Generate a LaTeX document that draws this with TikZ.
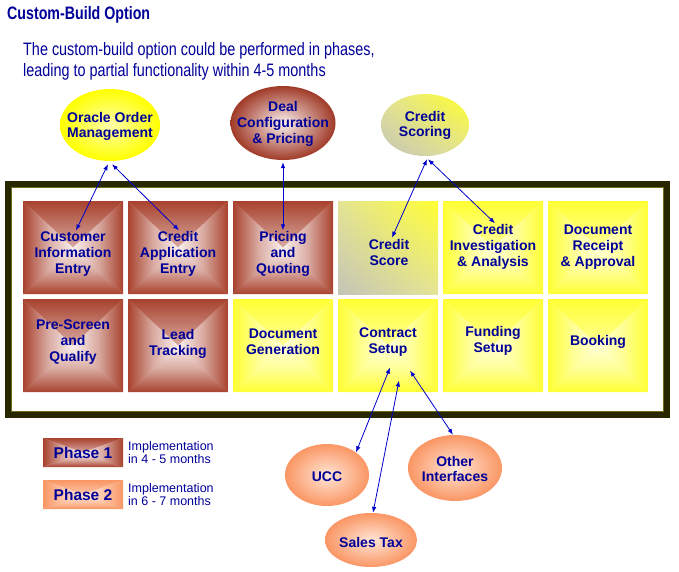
\documentclass[tikz,border=0pt]{standalone}
\usepackage{fontspec}
\setmainfont{Liberation Sans}
\usepackage{graphicx}
\usetikzlibrary{shapes.geometric,arrows.meta,shadings}
\definecolor{txt}{RGB}{0,0,153}
\definecolor{brn}{RGB}{168,66,46}
\definecolor{brnc}{RGB}{250,240,238}
\definecolor{yel}{RGB}{255,255,51}
\definecolor{yelc}{RGB}{255,255,215}
\definecolor{sal}{RGB}{250,150,100}
\definecolor{salc}{RGB}{255,230,214}
\definecolor{arrc}{RGB}{0,0,204}
\definecolor{framec}{RGB}{40,40,0}
\definecolor{frameh}{RGB}{110,110,30}
\definecolor{grylo}{RGB}{196,196,184}
\definecolor{grymid}{RGB}{228,228,150}
\begin{document}
\begin{tikzpicture}[x=1pt,y=-1pt,
  pyr/.style 2 args={fill=#1!45!#2, path picture={
    \shade[top color=#1,bottom color=#2,middle color=#1!40!#2] (path picture bounding box.north west) -- (path picture bounding box.north east) -- (path picture bounding box.center) -- cycle;
    \shade[top color=#2,bottom color=#1,middle color=#1!40!#2] (path picture bounding box.south west) -- (path picture bounding box.south east) -- (path picture bounding box.center) -- cycle;
    \shade[left color=#1,right color=#2,middle color=#1!40!#2] (path picture bounding box.north west) -- (path picture bounding box.south west) -- (path picture bounding box.center) -- cycle;
    \shade[left color=#2,right color=#1,middle color=#1!40!#2] (path picture bounding box.north east) -- (path picture bounding box.south east) -- (path picture bounding box.center) -- cycle;
  }},
  cell/.style={rectangle, minimum width=100pt, minimum height=93pt, inner sep=0pt},
  ctext/.style={align=center, inner sep=1pt, text=txt, font=\fontsize{14}{16}\selectfont\bfseries},
  ell/.style={ellipse, inner sep=0pt},
  etext/.style={align=center, inner sep=1pt, text=txt, font=\fontsize{14}{15.5}\selectfont\bfseries},
  legtext/.style={anchor=west, align=left, inner sep=0pt, text=txt, font=\fontsize{12.5}{13}\selectfont},
  arr/.style={{Latex[length=6pt,width=4.5pt]}-{Latex[length=6pt,width=4.5pt]}, draw=arrc, line width=0.8pt}
]
\useasboundingbox (0,0) rectangle (679,571);

% title and subtitle
\node[anchor=base west, inner sep=0pt, text=txt, font=\fontsize{18}{21}\selectfont\bfseries] (title) at (7,19) {\scalebox{0.79}[1]{Custom-Build Option}};
\node[anchor=base west, inner sep=0pt, text=txt, font=\fontsize{18}{21}\selectfont] (sub1) at (23,55) {\scalebox{0.8}[1]{The custom-build option could be performed in phases,}};
\node[anchor=base west, inner sep=0pt, text=txt, font=\fontsize{18}{21}\selectfont] (sub2) at (23,76) {\scalebox{0.8}[1]{leading to partial functionality within 4-5 months}};

% frame
\node[draw=framec, line width=6pt, minimum width=659pt, minimum height=231pt, inner sep=0pt] (frame) at (337.5,299.5) {};
\node[draw=frameh, line width=0.8pt, minimum width=652pt, minimum height=224pt, inner sep=0pt] (frameinner) at (337.5,299.5) {};

% cells row 1
\node[cell, pyr={brn}{brnc}] (c11) at (73,247.5) {};
\node[cell, pyr={brn}{brnc}] (c12) at (178,247.5) {};
\node[cell, pyr={brn}{brnc}] (c13) at (283,247.5) {};
\node[cell, lower left=grylo, upper left=grymid, lower right=grymid, upper right=yel] (c14) at (388,247.5) {};
\node[cell, pyr={yel}{yelc}] (c15) at (493,247.5) {};
\node[cell, pyr={yel}{yelc}] (c16) at (598,247.5) {};
% cells row 2
\node[cell, pyr={brn}{brnc}] (c21) at (73,345.5) {};
\node[cell, pyr={brn}{brnc}] (c22) at (178,345.5) {};
\node[cell, pyr={yel}{yelc}] (c23) at (283,345.5) {};
\node[cell, pyr={yel}{yelc}] (c24) at (388,345.5) {};
\node[cell, pyr={yel}{yelc}] (c25) at (493,345.5) {};
\node[cell, pyr={yel}{yelc}] (c26) at (598,345.5) {};

% cell texts
\node[ctext] (t11) at (73,254) {Customer\\Information\\Entry};
\node[ctext] (t12) at (178,254) {Credit\\Application\\Entry};
\node[ctext] (t13) at (283,254) {Pricing\\and\\Quoting};
\node[ctext] (t14) at (389,252) {Credit\\Score};
\node[ctext] (t15) at (493,247) {Credit\\Investigation\\\& Analysis};
\node[ctext] (t16) at (598,247) {Document\\Receipt\\\& Approval};
\node[ctext] (t21) at (73,342.5) {Pre-Screen\\and\\Qualify};
\node[ctext] (t22) at (178,344) {Lead\\Tracking};
\node[ctext] (t23) at (283,342) {Document\\Generation};
\node[ctext] (t24) at (388,342) {Contract\\Setup};
\node[ctext] (t25) at (493,341) {Funding\\Setup};
\node[ctext] (t26) at (598,342) {Booking};

% top ellipses
\node[ell, minimum width=100pt, minimum height=72pt, inner color={rgb,255:red,255;green,255;blue,170}, outer color={rgb,255:red,255;green,255;blue,0}] (oom) at (110,125) {};
\node[etext] (oomt) at (110,126.5) {Oracle Order\\Management};
\node[ell, minimum width=105pt, minimum height=74pt, inner color=brnc, outer color={rgb,255:red,160;green,58;blue,40}] (dcp) at (283,123) {};
\node[etext, font=\fontsize{14}{16}\selectfont\bfseries] (dcpt) at (283,124) {Deal\\Configuration\\\& Pricing};
\node[ell, minimum width=88pt, minimum height=62pt, lower left=grylo, upper left=grymid, lower right=grymid, upper right={rgb,255:red,255;green,255;blue,40}] (cs) at (425,125) {};
\node[etext] (cst) at (425,125.5) {Credit\\Scoring};

% bottom ellipses
\node[ell, minimum width=84pt, minimum height=62pt, inner color=salc, outer color=sal] (ucc) at (327,475) {};
\node[etext] (ucct) at (327,477) {UCC};
\node[ell, minimum width=94pt, minimum height=66pt, inner color=salc, outer color=sal] (oi) at (455,468) {};
\node[etext] (oit) at (455,469) {Other\\Interfaces};
\node[ell, minimum width=92pt, minimum height=54pt, inner color=salc, outer color=sal] (st) at (371,540) {};
\node[etext] (stt) at (371,542) {Sales Tax};

% legend
\node[pyr={brn}{brnc}, minimum width=80pt, minimum height=29pt, inner sep=0pt, text=txt, font=\fontsize{15.5}{16}\selectfont\bfseries] (ph1) at (83,452.5) {Phase 1};
\node[legtext] (ph1t) at (128,452.5) {Implementation\\in 4 - 5 months};
\node[pyr={sal}{salc}, minimum width=80pt, minimum height=29pt, inner sep=0pt, text=txt, font=\fontsize{15.5}{16}\selectfont\bfseries] (ph2) at (83,494.5) {Phase 2};
\node[legtext] (ph2t) at (128,494.5) {Implementation\\in 6 - 7 months};

% connectors
\draw[arr] ([shift={(-2pt,-3pt)}]oom.south) -- ([xshift=3pt]t11.north);
\draw[arr] ([shift={(2pt,-3pt)}]oom.south) -- ([xshift=1pt]t12.north);
\draw[arr] ([yshift=-2pt]dcp.south) -- (t13.north);
\draw[arr] ([shift={(2pt,-3pt)}]cs.south) -- ([xshift=3pt]t14.north);
\draw[arr] ([shift={(3pt,-3pt)}]cs.south) -- ([xshift=2pt]t15.north);
\draw[arr] ([shift={(2pt,-10pt)}]t24.south) -- (ucc.38);
\draw[arr] ([shift={(11pt,-23pt)}]t24.south) -- ([xshift=2pt]st.north);
\draw[arr] ([shift={(22pt,-13pt)}]t24.south) -- ([xshift=-2pt]oi.north);
\end{tikzpicture}
\end{document}
